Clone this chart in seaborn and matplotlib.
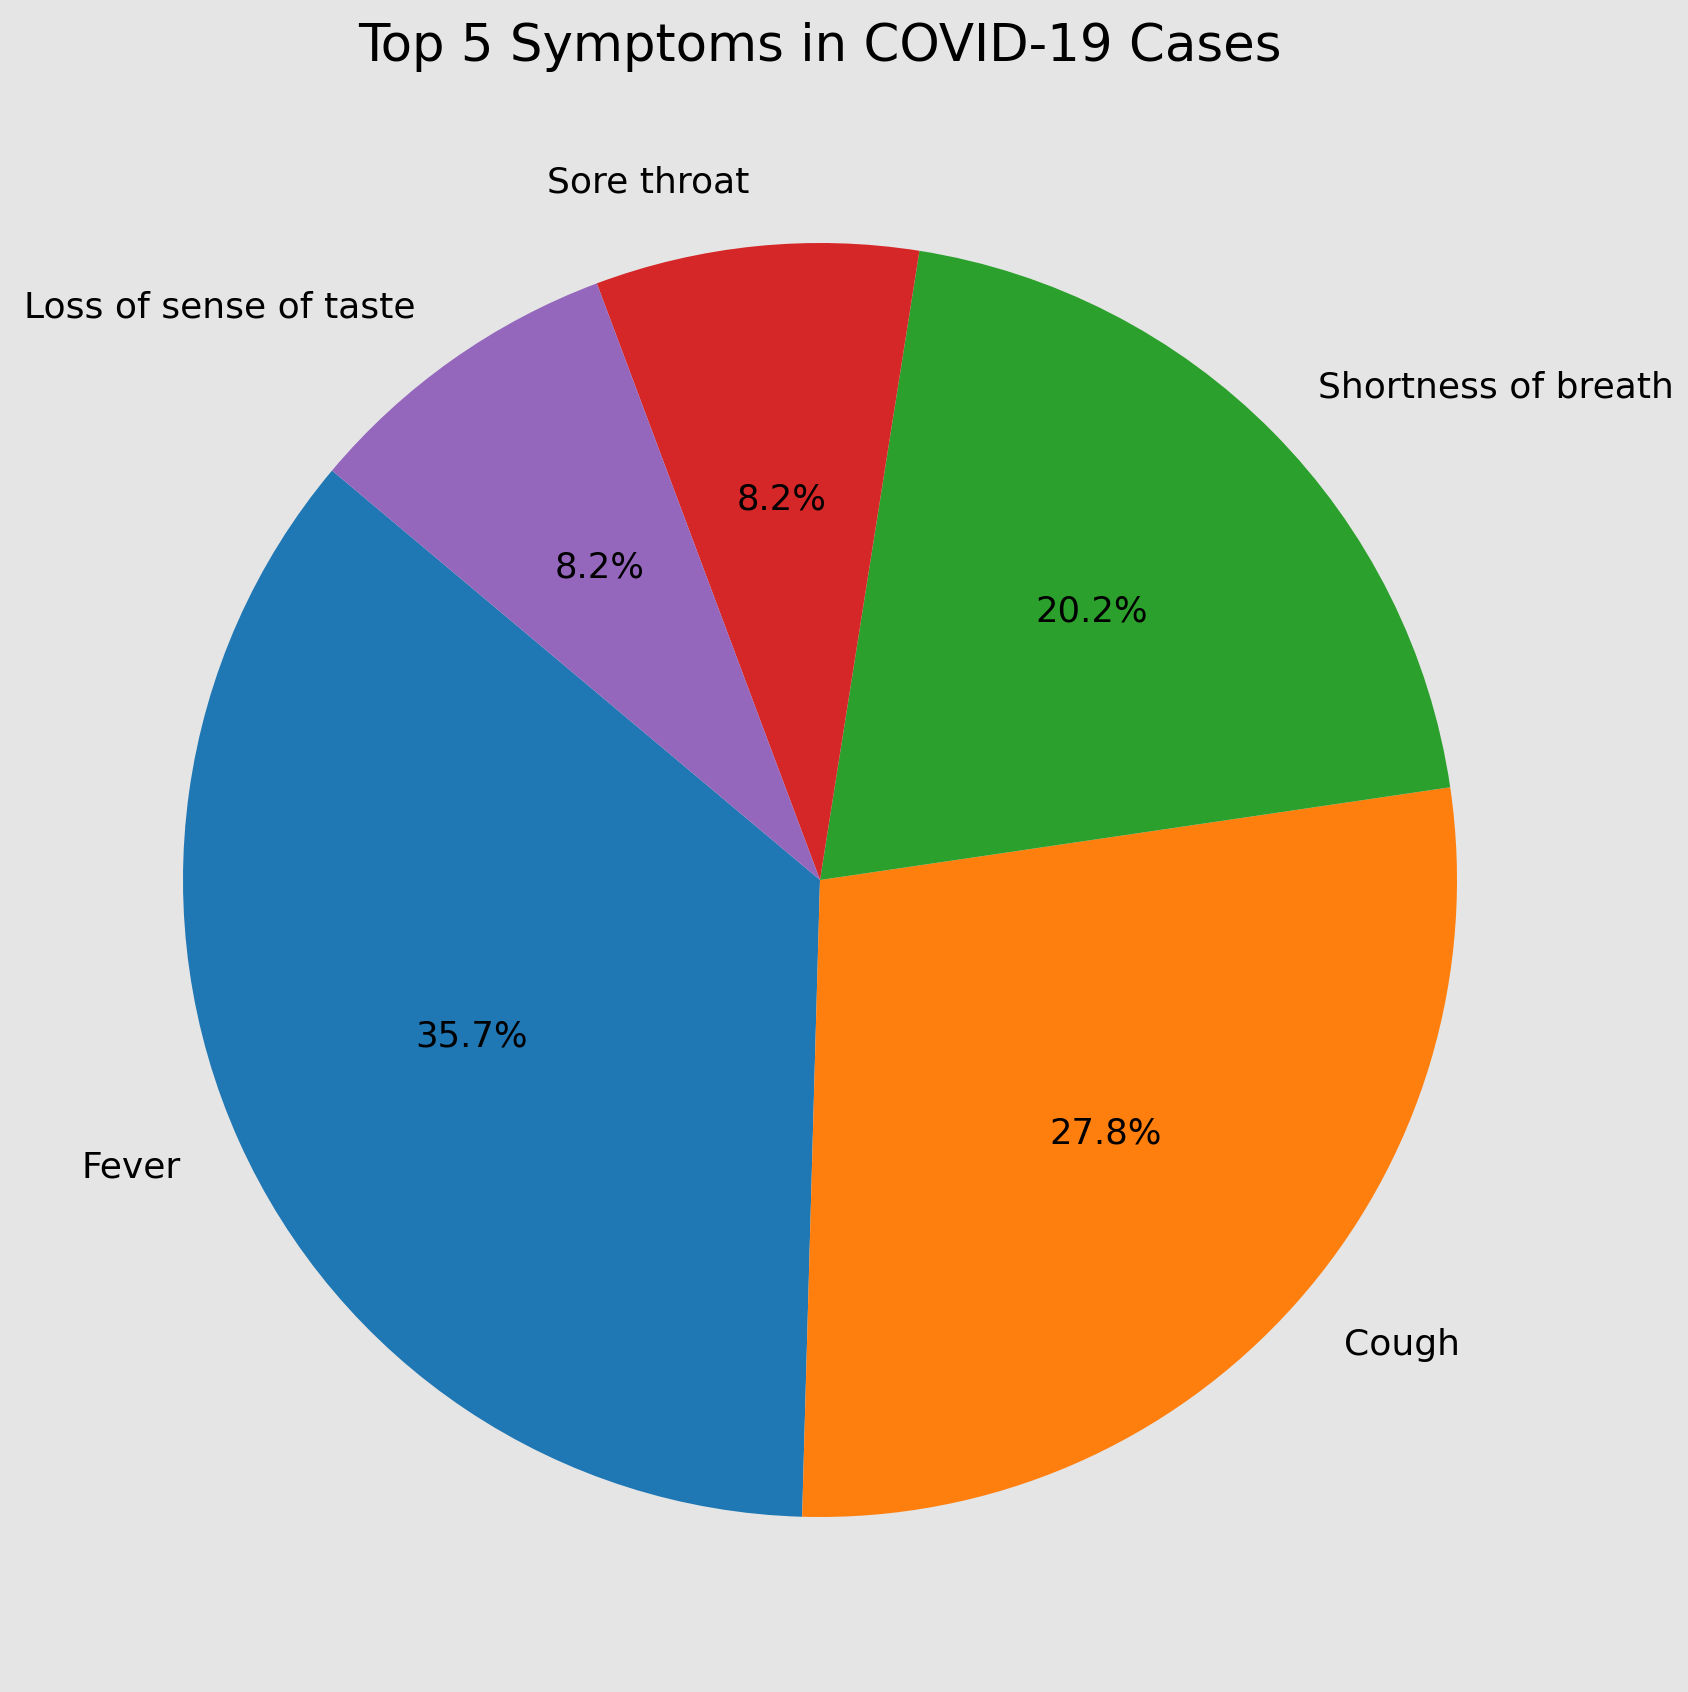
import matplotlib
matplotlib.use("Agg")
import matplotlib.pyplot as plt
import seaborn as sns

symptoms = ["Fever", "Cough", "Shortness of breath", "Sore throat", "Loss of sense of taste"]
shares = [35.7, 27.8, 20.2, 8.2, 8.2]
title = "Top 5 Symptoms in COVID-19 Cases"

sns.set_style("white")
plt.rcParams['font.family'] = ['DejaVu Sans']
plt.rcParams['text.color'] = 'black'
colors = sns.color_palette("tab10", 5)

W, H = 1688, 1692
fig = plt.figure(figsize=(W / 100, H / 100), dpi=100, facecolor="#e5e5e5")
r = 637
cx, cy = 820, 880
side = 2.5 * r
ax = fig.add_axes([(cx - side / 2) / W, (H - cy - side / 2) / H, side / W, side / H])
ax.set_facecolor("#e5e5e5")
wedges, texts, autotexts = ax.pie(shares, labels=symptoms, colors=colors, autopct="%1.1f%%",
                                  startangle=140, wedgeprops={"linewidth": 0},
                                  textprops={"fontsize": 26, "color": "black"})
for t in autotexts:
    t.set_fontsize(25.5)
ax.set_aspect("equal")
fig.text(cx / W, 1 - 47 / H, title, ha="center", va="center", fontsize=37, color="black")
fig.savefig("out.png", dpi=100, facecolor=fig.get_facecolor())
